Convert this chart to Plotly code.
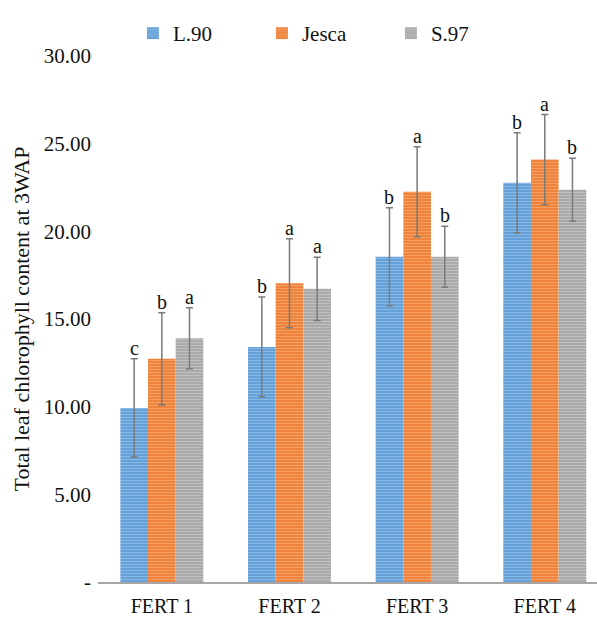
import plotly.graph_objects as go

# Treatments and cultivars
categories = ["FERT 1", "FERT 2", "FERT 3", "FERT 4"]
cultivars = ["L.90", "Jesca", "S.97"]

# Mean total leaf chlorophyll content at 3 WAP
l90_values = [9.93, 13.41, 18.55, 22.77]
jesca_values = [12.73, 17.04, 22.26, 24.09]
s97_values = [13.90, 16.72, 18.55, 22.37]

# Error bar half-lengths
l90_errors = [2.80, 2.85, 2.80, 2.85]
jesca_errors = [2.63, 2.54, 2.57, 2.57]
s97_errors = [1.74, 1.80, 1.74, 1.80]

# Significance letters
l90_letters = ["c", "b", "b", "b"]
jesca_letters = ["b", "a", "a", "a"]
s97_letters = ["a", "a", "b", "b"]

# Axis ticks
y_tickvals = [0, 5, 10, 15, 20, 25, 30]
y_ticktext = ["-", "5.00", "10.00", "15.00", "20.00", "25.00", "30.00"]

series = [
    (cultivars[0], l90_values, l90_errors, l90_letters, "#5b9bd5", "#b9d6f2"),
    (cultivars[1], jesca_values, jesca_errors, jesca_letters, "#ed7d31", "#f8c39c"),
    (cultivars[2], s97_values, s97_errors, s97_letters, "#a5a5a5", "#dcdcdc"),
]

SERIF = "Liberation Serif"
INK = "#111111"
BARGAP = 0.35

fig = go.Figure()
for name, vals, errs, _, base, stripe in series:
    fig.add_trace(go.Bar(
        name=name,
        x=categories,
        y=vals,
        marker=dict(
            color=base,
            line=dict(width=0),
            pattern=dict(shape="-", fillmode="overlay", fgcolor=stripe,
                         bgcolor=base, size=3, solidity=0.45),
        ),
        error_y=dict(type="data", array=errs, visible=True,
                     color="#7a7a7a", thickness=1.5, width=3.5),
    ))

# Letters above each error bar, placed at the grouped bar offsets
n = len(series)
bar_w = (1 - BARGAP) / n
annotations = []
for k, (_, vals, errs, letters, _, _) in enumerate(series):
    offset = (k - (n - 1) / 2) * bar_w
    for i, (v, e, t) in enumerate(zip(vals, errs, letters)):
        annotations.append(dict(
            x=i + offset, y=v + e, xref="x", yref="y", text=t,
            showarrow=False, yanchor="bottom", yshift=-2,
            font=dict(family=SERIF, size=20, color=INK),
        ))

fig.update_layout(
    width=597, height=618,
    margin=dict(l=98, r=0, t=56, b=36, autoexpand=False),
    paper_bgcolor="white", plot_bgcolor="white",
    barmode="group", bargap=BARGAP, bargroupgap=0,
    font=dict(family=SERIF, size=21, color=INK),
    annotations=annotations,
    showlegend=True,
    legend=dict(orientation="h", x=0.07, xref="paper", y=0.979, yref="container",
                yanchor="top", xanchor="left",
                font=dict(family=SERIF, size=21, color=INK),
                entrywidth=84, entrywidthmode="pixels",
                itemclick=False),
)

fig.update_xaxes(
    range=[-0.5, 3.409],
    showgrid=False, zeroline=False,
    showline=True, linecolor="#a6a6a6", linewidth=2,
    ticks="", ticklabelstandoff=5,
    tickfont=dict(family=SERIF, size=20, color=INK),
)
fig.update_yaxes(
    range=[0, 30],
    tickvals=y_tickvals, ticktext=y_ticktext,
    showgrid=False, zeroline=False, showline=False,
    ticks="", ticklabelstandoff=6,
    tickfont=dict(family=SERIF, size=21, color=INK),
    title=dict(text="Total leaf chlorophyll content at 3WAP",
               font=dict(family=SERIF, size=22, color=INK), standoff=8),
)

fig.write_html("out.html")
